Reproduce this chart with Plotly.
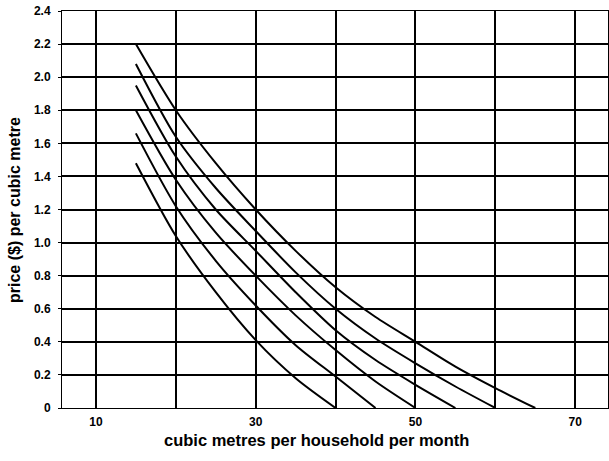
import plotly.graph_objects as go

# Curve data (x: cubic metres per household per month, y: price $)
x_c1 = [15, 20, 25, 30, 35, 40]
y_c1 = [1.48, 1.04, 0.70, 0.41, 0.18, 0.0]

x_c2 = [15, 20, 25, 30, 35, 40, 45]
y_c2 = [1.66, 1.22, 0.89, 0.62, 0.38, 0.19, 0.0]

x_c3 = [15, 20, 25, 30, 35, 40, 45, 50]
y_c3 = [1.80, 1.38, 1.06, 0.80, 0.56, 0.35, 0.16, 0.0]

x_c4 = [15, 20, 25, 30, 35, 40, 45, 50, 55]
y_c4 = [1.95, 1.52, 1.20, 0.95, 0.70, 0.47, 0.29, 0.14, 0.0]

x_c5 = [15, 20, 25, 30, 35, 40, 45, 50, 55, 60]
y_c5 = [2.08, 1.64, 1.33, 1.07, 0.82, 0.60, 0.42, 0.27, 0.13, 0.0]

x_c6 = [15, 20, 25, 30, 35, 40, 45, 50, 55, 60, 65]
y_c6 = [2.20, 1.80, 1.48, 1.20, 0.95, 0.73, 0.55, 0.40, 0.25, 0.12, 0.0]

x_tickvals = [10, 20, 30, 40, 50, 60, 70]
x_ticktext = ["10", "", "30", "", "50", "", "70"]
y_tickvals = [0, 0.2, 0.4, 0.6, 0.8, 1.0, 1.2, 1.4, 1.6, 1.8, 2.0, 2.2, 2.4]
y_ticktext = ["0", "0.2", "0.4", "0.6", "0.8", "1.0", "1.2", "1.4", "1.6", "1.8", "2.0", "2.2", "2.4"]

x_title = "cubic metres per household per month"
y_title = "price ($) per cubic metre"

series = [(x_c1, y_c1), (x_c2, y_c2), (x_c3, y_c3), (x_c4, y_c4), (x_c5, y_c5), (x_c6, y_c6)]

fig = go.Figure()
for xs, ys in series:
    fig.add_trace(go.Scatter(
        x=xs, y=ys, mode="lines",
        line=dict(color="black", width=2, shape="spline", smoothing=0.8),
        showlegend=False, hoverinfo="skip",
    ))

font_family = "Liberation Sans, Arial, sans-serif"

fig.update_layout(
    width=609, height=461,
    margin=dict(l=62, r=1, t=11, b=53),
    paper_bgcolor="white", plot_bgcolor="white",
    font=dict(family=font_family, color="black"),
    xaxis=dict(
        range=[5.75, 74.1], automargin=False,
        tickvals=x_tickvals, ticktext=x_ticktext,
        showgrid=True, gridcolor="black", gridwidth=2,
        showline=True, linecolor="black", linewidth=1, mirror=True,
        zeroline=False, ticks="", ticklabelstandoff=3,
        tickfont=dict(size=12, family=font_family, weight="bold"),
    ),
    yaxis=dict(
        range=[0, 2.4], automargin=False,
        tickvals=y_tickvals, ticktext=y_ticktext,
        showgrid=True, gridcolor="black", gridwidth=2,
        showline=True, linecolor="black", linewidth=1, mirror=True,
        zeroline=False, ticks="outside", ticklen=3, tickcolor="black",
        ticklabelstandoff=5, ticklabeloverflow="allow",
        tickfont=dict(size=12, family=font_family, weight="bold"),
    ),
    annotations=[
        dict(text=x_title, xref="paper", yref="paper",
             x=(316 - 62) / 546, y=-(440 - 408) / 397,
             xanchor="center", yanchor="middle", showarrow=False,
             font=dict(size=16.5, family=font_family, weight="bold")),
        dict(text=y_title, xref="paper", yref="paper",
             x=-(62 - 15) / 546, y=(408 - 210) / 397,
             xanchor="center", yanchor="middle", showarrow=False, textangle=-90,
             font=dict(size=16, family=font_family, weight="bold")),
    ],
)

# remove the default 8px page margin so the figure fills the window exactly
fig.write_html(
    "out.html",
    config={"displayModeBar": False},
    post_script="document.body.style.margin='0';document.body.style.overflow='hidden';",
)
